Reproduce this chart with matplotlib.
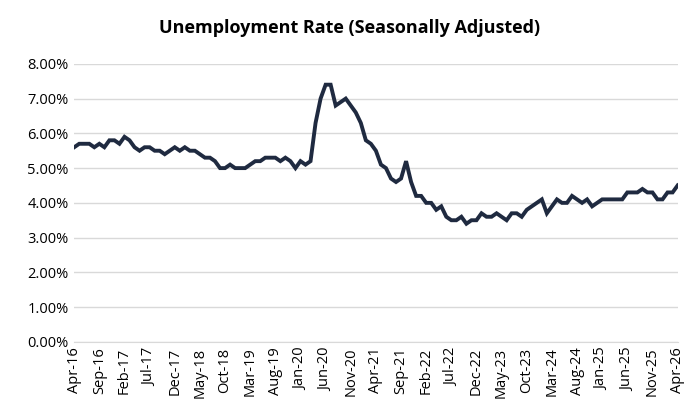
import matplotlib
matplotlib.use("Agg")
import matplotlib.pyplot as plt
import pandas as pd

months = pd.date_range("2016-04-01", "2026-04-01", freq="MS")
rate = [5.6, 5.7, 5.7, 5.7, 5.6, 5.7, 5.6, 5.8, 5.8, 5.7, 5.9, 5.8, 5.6, 5.5, 5.6, 5.6,
        5.5, 5.5, 5.4, 5.5, 5.6, 5.5, 5.6, 5.5, 5.5, 5.4, 5.3, 5.3, 5.2, 5.0, 5.0, 5.1,
        5.0, 5.0, 5.0, 5.1, 5.2, 5.2, 5.3, 5.3, 5.3, 5.2, 5.3, 5.2, 5.0, 5.2, 5.1, 5.2,
        6.3, 7.0, 7.4, 7.4, 6.8, 6.9, 7.0, 6.8, 6.6, 6.3, 5.8, 5.7, 5.5, 5.1, 5.0, 4.7,
        4.6, 4.7, 5.2, 4.6, 4.2, 4.2, 4.0, 4.0, 3.8, 3.9, 3.6, 3.5, 3.5, 3.6, 3.4, 3.5,
        3.5, 3.7, 3.6, 3.6, 3.7, 3.6, 3.5, 3.7, 3.7, 3.6, 3.8, 3.9, 4.0, 4.1, 3.7, 3.9,
        4.1, 4.0, 4.0, 4.2, 4.1, 4.0, 4.1, 3.9, 4.0, 4.1, 4.1, 4.1, 4.1, 4.1, 4.3, 4.3,
        4.3, 4.4, 4.3, 4.3, 4.1, 4.1, 4.3, 4.3, 4.5]
labels = [m.strftime("%b-%y") for m in months]

plt.rcParams["font.family"] = ["Open Sans", "DejaVu Sans"]
fig = plt.figure(figsize=(7, 4.2), dpi=100)
ax = fig.add_axes([0.106, 0.186, 0.862, 0.662])
x = list(range(len(rate)))
ax.plot(x, rate, color="#1f2a40", lw=2.8, solid_joinstyle="miter")
ax.set_xlim(0, len(rate) - 1)
ax.set_ylim(0, 8)
ax.set_yticks(range(0, 9))
ax.set_yticklabels([f"{v:.2f}%" for v in range(0, 9)], fontsize=10.5)
ax.set_xticks(x[::5])
ax.set_xticklabels(labels[::5], rotation=90, fontsize=10.5)
ax.grid(axis="y", color="#d9d9d9", lw=1)
ax.set_axisbelow(True)
for s in ["top", "right", "left"]:
    ax.spines[s].set_visible(False)
ax.spines["bottom"].set_color("#d9d9d9")
ax.tick_params(length=0, pad=4)
fig.suptitle("Unemployment Rate (Seasonally Adjusted)", fontsize=13, fontweight="bold", y=0.955)
fig.savefig("out.png", dpi=100, facecolor="white")
